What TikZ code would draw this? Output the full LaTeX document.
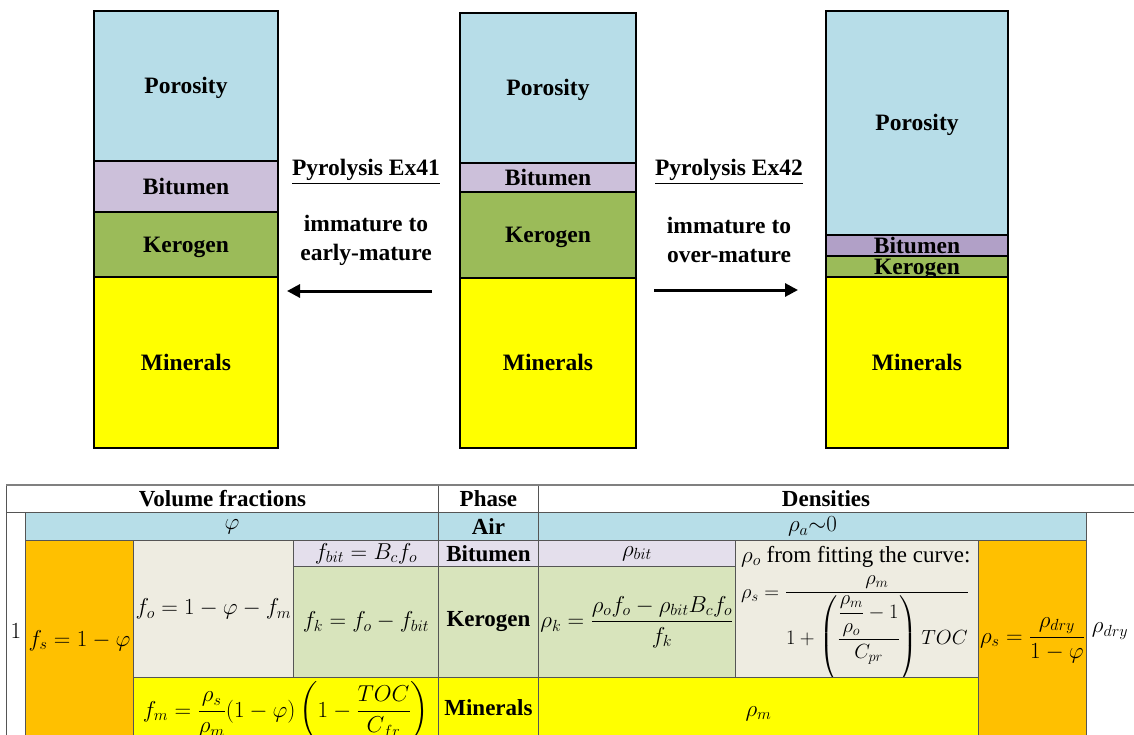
\RequirePackage{fix-cm}
\documentclass[tikz,border=0pt]{standalone}
\usepackage{amsmath}
\usepackage{fontspec}
\setmainfont{Liberation Serif}
\usetikzlibrary{arrows.meta}
\definecolor{poro}{HTML}{B7DDE8}
\definecolor{bitA}{HTML}{CCC0DA}
\definecolor{bitB}{HTML}{B1A0C7}
\definecolor{kero}{HTML}{9BBB59}
\definecolor{mine}{HTML}{FFFF00}
\definecolor{tair}{HTML}{B7DEE8}
\definecolor{torange}{HTML}{FFC000}
\definecolor{tbeige}{HTML}{EEECE1}
\definecolor{tlav}{HTML}{E4DFEC}
\definecolor{tgreen}{HTML}{D8E4BC}
\definecolor{gridc}{HTML}{555555}
\tikzset{
  band/.style={draw=black, line width=2pt, anchor=north west, inner sep=0pt,
    text height=15.5pt, text depth=0pt,
    font=\fontsize{23.5}{26}\selectfont\bfseries},
  lbl/.style={font=\fontsize{23.5}{27}\selectfont\bfseries, inner sep=0pt, align=center},
  cellb/.style={draw=gridc, line width=0.9pt, anchor=north west, inner sep=0pt,
    font=\fontsize{23}{26}\selectfont\bfseries},
  hdr/.style={inner sep=0pt, font=\fontsize{23}{26}\selectfont\bfseries},
  mcell/.style={draw=gridc, line width=0.9pt, anchor=north west, inner sep=0pt,
    font=\fontsize{23}{26}\selectfont},
  mth/.style={font=\fontsize{23}{26}\selectfont, inner sep=0pt},
  mths/.style={font=\fontsize{20.5}{24}\selectfont, inner sep=0pt},
  bigarrow/.style={line width=3pt, -{Triangle[length=13pt,width=13pt]}},
}
\begin{document}
\begin{tikzpicture}[x=1pt,y=-1pt]
\useasboundingbox (0,0) rectangle (1134,734);
% ---------- left column ----------
\node[band, fill=poro, minimum width=184pt, minimum height=150pt] (lp) at (93,10) {Porosity};
\node[band, fill=bitA, minimum width=184pt, minimum height=51pt] (lb) at (93,160) {Bitumen};
\node[band, fill=kero, minimum width=184pt, minimum height=65pt] (lk) at (93,211) {Kerogen};
\node[band, fill=mine, minimum width=184pt, minimum height=171pt] (lm) at (93,276) {Minerals};
% ---------- middle column ----------
\node[band, fill=poro, minimum width=176pt, minimum height=150pt] (mp) at (459,12) {Porosity};
\node[band, fill=bitA, minimum width=176pt, minimum height=29pt] (mb) at (459,162) {Bitumen};
\node[band, fill=kero, minimum width=176pt, minimum height=86pt] (mk) at (459,191) {Kerogen};
\node[band, fill=mine, minimum width=176pt, minimum height=170pt] (mm) at (459,277) {Minerals};
% ---------- right column ----------
\node[band, fill=poro, minimum width=182pt, minimum height=224pt] (rp) at (825,10) {Porosity};
\node[band, fill=bitB, minimum width=182pt, minimum height=21pt] (rb) at (825,234) {Bitumen};
\node[band, fill=kero, minimum width=182pt, minimum height=21pt] (rk) at (825,255) {Kerogen};
\node[band, fill=mine, minimum width=182pt, minimum height=171pt] (rm) at (825,276) {Minerals};
% ---------- labels and arrows ----------
\node[lbl] (t41) at (366,172) {\underline{Pyrolysis Ex41}};
\node[lbl] (d41) at (366,240) {immature to\\[2pt]early-mature};
\node[lbl] (t42) at (729,172) {\underline{Pyrolysis Ex42}};
\node[lbl] (d42) at (729,240) {immature to\\[2pt]over-mature};
\coordinate (a41s) at (432,291);
\coordinate (a41e) at (287,291);
\coordinate (a42s) at (654,290);
\coordinate (a42e) at (798,290);
\draw[bigarrow] (a41s) -- (a41e);
\draw[bigarrow] (a42s) -- (a42e);
% ---------- table ----------
\node[cellb, minimum width=432pt, minimum height=27pt] (hvf) at (6,485) {Volume fractions};
\node[cellb, minimum width=100pt, minimum height=27pt] (hph) at (438,485) {Phase};
\node[hdr] (hde) at (826,498.5) {Densities};
\draw[color=gridc, line width=0.9pt] (538,512) -- (1134,512);
\draw[color=gray, line width=2pt] (6,485) -- (1134,485);
% column "1"
\node[mcell, minimum width=19pt, minimum height=238pt] (one) at (6,512) {$1$};
% air row
\node[mcell, fill=tair, minimum width=413pt, minimum height=28pt] (cphi) at (25,512) {$\varphi$};
\node[cellb, fill=tair, minimum width=100pt, minimum height=28pt] (pair) at (438,512) {Air};
\node[mcell, fill=tair, minimum width=548pt, minimum height=28pt] (rhoa) at (538,512) {$\rho_a{\sim}0$};
% f_s
\node[mcell, fill=torange, minimum width=108pt, minimum height=200pt] (fs) at (25,540) {$f_s=1-\varphi$};
% f_o
\node[mcell, fill=tbeige, minimum width=160pt, minimum height=137pt] (fo) at (133,540) {$f_o=1-\varphi-f_m$};
\node[mcell, fill=tlav, minimum width=145pt, minimum height=26pt] (fbit) at (293,540) {$f_{bit}=B_c f_o$};
\node[mcell, fill=tgreen, minimum width=145pt, minimum height=111pt] (fk) at (293,566) {$f_k=f_o-f_{bit}$};
% phase column
\node[cellb, fill=tlav, minimum width=100pt, minimum height=26pt] (pbit) at (438,540) {Bitumen};
\node[cellb, fill=tgreen, minimum width=100pt, minimum height=111pt] (pker) at (438,566) {Kerogen};
% densities
\node[mcell, fill=tlav, minimum width=197pt, minimum height=26pt] (rbit) at (538,540) {$\rho_{bit}$};
\node[mcell, fill=tgreen, minimum width=197pt, minimum height=111pt] (rkc) at (538,566)
  {$\rho_k=\dfrac{\rho_o f_o-\rho_{bit}B_c f_o}{f_k}$};
\node[mcell, fill=tbeige, minimum width=243pt, minimum height=137pt] (ro) at (735,540) {};
\begin{scope}
\clip (735,540) rectangle (978,677);
\node[mth, anchor=base west] (rotxt) at (741,562) {$\rho_o$ from fitting the curve:};
\node[mths, anchor=base west] (rsfit) at (741,598)
  {$\rho_s=\dfrac{\rho_m}{1+\left(\dfrac{\dfrac{\rho_m}{\rho_o}-1}{C_{pr}}\right)TOC}$};
\end{scope}
\node[mcell, fill=torange, minimum width=108pt, minimum height=200pt] (rs) at (978,540)
  {$\rho_s=\dfrac{\rho_{dry}}{1-\varphi}$};
% minerals row
\node[mcell, fill=mine, minimum width=305pt, minimum height=68pt] (fm) at (133,677)
  {$f_m=\dfrac{\rho_s}{\rho_m}(1-\varphi)\left(1-\dfrac{TOC}{C_{fr}}\right)$};
\node[cellb, fill=mine, minimum width=100pt, minimum height=60pt] (pmin) at (438,677) {Minerals};
\node[mcell, fill=mine, minimum width=440pt, minimum height=72pt] (rm2) at (538,677) {$\rho_m$};
\node[mth] (rdry) at (1110,631) {$\rho_{dry}$};
\end{tikzpicture}
\end{document}
